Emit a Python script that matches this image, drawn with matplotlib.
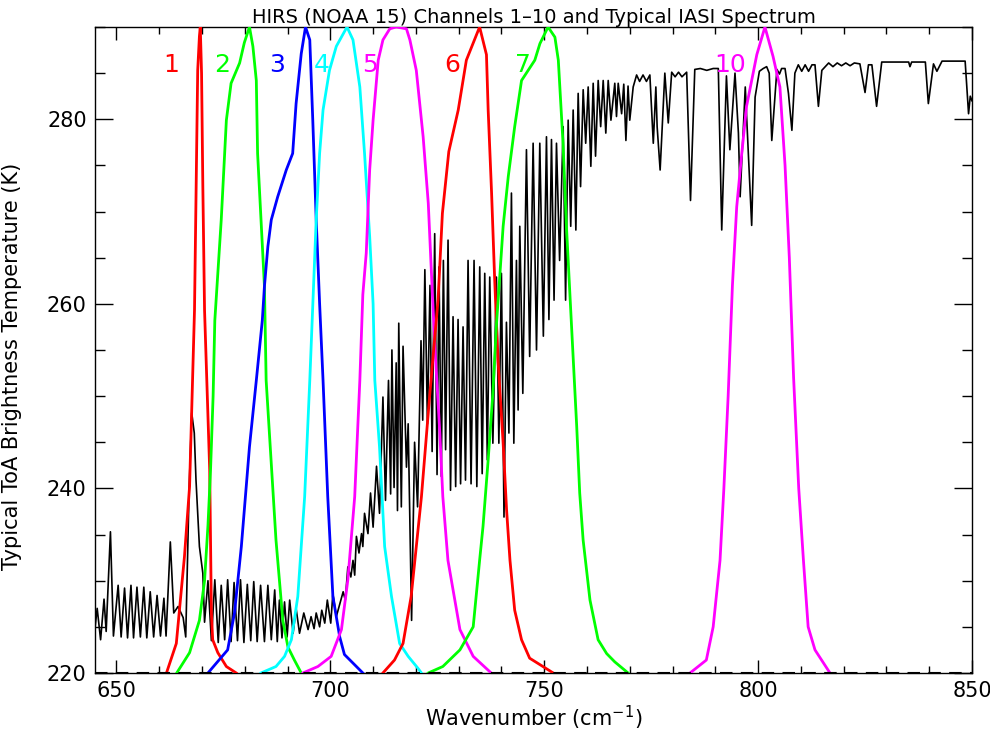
import matplotlib
matplotlib.use("Agg")
import matplotlib.pyplot as plt
from matplotlib.ticker import MultipleLocator

# ---------------- data ----------------
title = "HIRS (NOAA 15) Channels 1\u201310 and Typical IASI Spectrum"
xlabel = "Wavenumber (cm$^{-1}$)"
ylabel = "Typical ToA Brightness Temperature (K)"

# Typical IASI spectrum (brightness temperature, K), vertices
spec_wn = [644.9, 645.5, 646.3, 647.1, 647.6, 648.6, 649.3, 650.4, 651.1, 651.9, 652.6, 653.4,
           654.0, 654.8, 655.6, 656.4, 657.1, 657.9, 658.7, 659.5, 660.3, 661.1, 661.6, 662.6,
           663.4, 664.4, 665.6, 666.2, 667.0, 667.6, 668.2, 668.6, 669.4, 670.2, 670.6,
           671.4, 672.2, 673.0, 673.8, 674.5, 675.3, 676.0, 676.8, 677.5, 678.3, 679.0, 679.8,
           680.6, 681.4, 682.1, 682.9, 683.7, 684.6, 685.4, 686.2, 687.0, 687.6, 688.1, 688.7,
           689.3, 689.9, 690.5, 691.3,
           692.0, 692.8, 693.8, 694.8, 695.5, 696.2, 696.7, 697.5, 698.0, 698.7, 699.3, 700.1,
           700.6, 701.4,
           703.0, 703.5, 704.1, 704.8, 705.3, 705.7, 706.1, 706.7, 707.3, 707.6, 708.0, 708.8,
           709.4, 710.0, 710.8, 711.5,
           712.3, 712.9, 713.6, 714.1, 714.4, 714.9, 715.4, 715.7, 716.0, 716.6, 717.0, 717.8,
           718.2, 719.0, 719.7, 720.4,
           721.2, 721.6, 722.1, 722.7, 723.3, 723.8,
           724.40, 724.95, 725.41, 725.95, 726.43, 726.95, 727.52, 728.10, 728.69, 729.30,
           729.86, 730.45, 731.03, 731.60, 732.20, 732.90, 733.60, 734.25, 734.93, 735.50,
           736.10, 736.70, 737.27, 738.00, 738.83, 739.40, 740.00, 740.60, 741.17, 741.75,
           742.34, 742.90, 743.51, 743.90, 744.29, 745.00, 745.85, 746.60, 747.41, 748.20,
           748.97, 749.80, 750.53, 751.10, 751.70, 752.30, 752.87, 753.60, 754.43, 755.00,
           755.60, 756.20, 756.77, 757.40, 757.94, 758.50, 759.11, 759.70, 760.28, 760.90,
           761.45, 762.00, 762.62, 763.20, 763.79, 764.40, 764.96, 765.60,
           766.5, 766.9, 767.3, 768.1, 768.6, 769.1, 769.6, 770.0, 770.8, 771.6,
           772.3, 773.1, 773.9, 774.7, 775.5, 776.1, 776.4, 777.1, 778.2, 779.0, 779.8, 780.6,
           781.4, 782.2, 783.3, 784.2, 785.2, 786.5, 788.0, 789.5, 790.7, 791.5, 792.6, 793.4,
           794.6, 795.4, 795.8, 797.0, 798.5, 799.3, 800.3, 801.2, 802.0, 802.6, 803.2, 804.4,
           805.0, 805.5, 806.3, 807.1, 807.9, 808.6, 809.4, 810.2, 811.0, 811.8, 812.6, 813.3,
           814.1, 814.9, 815.5, 816.5, 817.5, 818.5, 819.5, 820.5, 821.5, 822.5, 823.8, 825.0,
           825.8, 826.6, 827.7, 828.9, 832.0, 835.2, 835.5, 835.9, 839.1, 839.8, 841.0, 841.8,
           843.0, 848.4, 849.2, 849.6, 850.0]
spec_T = [224.5, 227.0, 223.6, 228.0, 224.5, 235.3, 224.0, 229.5, 223.9, 229.2, 223.8, 229.5,
          223.8, 229.3, 223.9, 229.3, 223.8, 228.8, 223.9, 228.4, 224.0, 228.1, 224.0, 234.2,
          226.5, 227.2, 226.0, 223.9, 240.0, 248.2, 246.0, 240.9, 233.7, 230.8, 225.5,
          230.0, 223.5, 230.1, 223.3, 229.5, 223.6, 230.1, 223.4, 229.8, 223.5, 230.1, 223.3,
          229.6, 223.5, 229.9, 223.4, 229.5, 223.4, 229.5, 223.6, 229.0, 223.4, 227.9, 223.8,
          227.7, 223.9, 227.9, 224.3,
          227.0, 224.3, 226.5, 224.7, 226.1, 224.8, 226.5, 225.0, 226.8, 225.4, 227.9, 225.4,
          228.6, 226.1,
          228.8, 227.9, 231.5, 230.4, 232.2, 230.6, 234.8, 233.0, 235.1, 233.7, 237.3, 235.1,
          239.5, 235.8, 242.4, 237.3,
          249.9, 238.7, 251.7, 239.4, 255.0, 240.1, 253.6, 237.6, 257.9, 238.0, 255.4, 242.3,
          247.0, 225.7, 245.0, 238.0,
          256.0, 247.4, 263.7, 247.0, 262.0, 244.0,
          267.6, 241.5, 264.0, 241.3, 264.7, 244.2, 266.9, 239.8, 258.6, 240.2,
          258.3, 240.5, 257.5, 240.9, 264.7, 240.5, 264.7, 240.2, 264.0, 241.6,
          263.3, 243.1, 262.9, 244.9, 262.9, 244.9, 263.3, 236.9, 258.0, 246.0,
          272.0, 244.9, 264.7, 248.5, 268.4, 250.3, 276.7, 254.3, 277.4, 255.0,
          277.4, 256.5, 278.1, 258.3, 277.8, 260.4, 277.4, 264.7, 279.2, 260.4,
          279.9, 268.4, 281.0, 268.0, 282.8, 272.7, 283.2, 277.4, 283.5, 274.9,
          283.9, 276.0, 284.2, 279.2, 284.2, 278.5, 284.2, 279.9,
          283.9, 280.3, 283.9, 280.6, 283.8, 277.7, 283.6, 279.9, 283.5, 284.8,
          284.1, 284.8, 284.1, 284.8, 277.4, 283.5, 279.2, 274.5, 285.0, 279.6, 285.1, 284.6,
          285.1, 284.6, 285.1, 271.2, 285.4, 285.5, 285.3, 285.5, 285.5, 268.0, 284.7, 276.7,
          285.0, 278.5, 271.6, 283.5, 268.5, 282.4, 285.2, 285.5, 285.7, 285.0, 277.7, 285.4,
          284.9, 285.5, 285.5, 282.8, 278.8, 285.0, 285.9, 285.2, 285.9, 285.2, 285.9, 285.9,
          281.4, 285.3, 285.6, 286.1, 285.7, 286.1, 285.8, 286.1, 285.8, 286.1, 286.0, 282.9,
          285.9, 285.9, 281.4, 286.2, 286.2, 286.2, 285.7, 286.2, 286.2, 281.7, 286.0, 285.2,
          286.3, 286.3, 280.6, 282.5, 282.0]

# HIRS spectral response functions, drawn on the temperature axis (220 = zero, 290 = peak)
ch1_wn = [661.7, 664.0, 665.9, 667.1, 668.25, 669.0, 669.4, 669.6, 669.9, 670.2, 670.6, 671.8,
          672.2, 672.5, 673.7, 675.7, 678.0]
ch1_T = [220.0, 223.2, 232.6, 240.2, 259.3, 285.3, 289.0, 290.0, 285.0, 272.7, 259.3, 242.0,
         226.5, 223.6, 222.2, 220.7, 220.0]
ch2_wn = [664.1, 667.1, 669.4, 670.6, 671.4, 672.0, 672.6, 673.0, 674.5, 675.7, 676.8, 678.8,
          679.9, 681.1, 681.9, 682.7, 683.0, 683.8, 684.6, 685.0, 687.3, 688.9, 690.1, 691.6, 693.2]
ch2_T = [220.0, 222.2, 225.7, 230.0, 236.0, 242.0, 250.0, 258.2, 269.1, 279.9, 283.9, 286.1,
         288.3, 290.0, 287.9, 284.2, 276.3, 269.1, 261.9, 251.7, 234.4, 225.7, 222.8, 221.4, 220.0]
ch3_wn = [671.4, 676.0, 677.6, 679.2, 681.1, 682.7, 684.1, 684.6, 685.4, 686.2, 687.7, 689.7,
          691.2, 692.0, 693.2, 694.2, 695.2, 695.9, 696.7, 697.5, 698.3, 699.4, 700.6, 702.2,
          703.3, 707.6]
ch3_T = [220.0, 222.5, 226.5, 233.7, 244.5, 251.7, 258.2, 261.9, 266.2, 269.1, 271.6, 274.5,
         276.3, 281.7, 287.1, 290.0, 288.6, 279.9, 269.1, 260.0, 251.7, 239.1, 228.3, 223.9,
         222.0, 220.0]
ch4_wn = [683.8, 687.3, 689.3, 690.9, 692.4, 694.0, 695.2, 696.0, 696.7, 697.5, 698.3, 699.8,
          701.4, 703.9, 705.3, 706.9, 708.0, 709.2, 710.0, 710.4, 711.5, 712.7, 714.3, 716.2,
          718.2, 720.5, 721.3]
ch4_T = [220.0, 220.7, 221.8, 223.6, 228.3, 239.1, 251.7, 261.0, 269.1, 276.3, 281.0, 285.3,
         287.9, 290.0, 288.6, 283.5, 276.3, 267.3, 260.0, 251.7, 244.5, 233.7, 228.3, 223.2,
         221.8, 220.5, 220.0]
ch5_wn = [693.6, 697.1, 700.2, 702.6, 704.1, 705.7, 706.9, 707.6, 708.4, 709.2, 710.0, 711.2,
          712.3, 713.9, 715.4, 717.8, 718.6, 720.1, 721.7, 722.9, 723.6, 724.4, 725.6, 726.3,
          727.5, 730.3, 733.4, 737.6]
ch5_T = [220.0, 220.7, 221.8, 224.7, 230.1, 239.1, 251.7, 261.0, 265.5, 274.5, 279.9, 286.4,
         288.6, 289.8, 290.0, 289.8, 288.6, 285.3, 278.1, 270.9, 263.7, 255.7, 246.0, 239.1,
         232.2, 224.7, 221.8, 220.0]
ch6_wn = [712.3, 715.0, 717.0, 718.9, 721.3, 723.2, 725.2, 726.2, 727.7, 729.9, 731.8, 734.9,
          736.5, 736.9, 737.7, 738.4, 739.2, 740.4, 741.2, 742.0, 743.1, 744.7, 746.6, 749.7, 752.1]
ch6_T = [220.0, 221.4, 223.2, 228.3, 239.1, 249.9, 260.5, 269.8, 276.5, 281.0, 286.4, 290.0,
         287.0, 281.0, 272.0, 262.9, 253.9, 244.9, 237.7, 232.2, 226.8, 223.6, 221.6, 220.7, 220.0]
ch7_wn = [722.9, 726.3, 730.3, 733.4, 734.9, 735.7, 736.9, 738.0, 738.8, 739.6, 740.4, 741.6,
          743.1, 744.7, 747.8, 749.0, 750.9, 752.5, 753.3, 754.4, 755.2, 756.0, 756.8, 757.6,
          758.3, 759.1, 760.7, 762.6, 764.6, 766.5, 769.6]
ch7_T = [220.0, 220.7, 222.5, 225.0, 232.2, 235.9, 243.1, 250.3, 257.5, 262.9, 268.4, 273.8,
         279.2, 284.2, 286.4, 288.2, 290.0, 288.9, 286.4, 277.4, 268.4, 261.1, 253.9, 246.7,
         239.5, 234.4, 227.9, 223.6, 222.1, 221.2, 220.0]
ch10_wn = [784.1, 787.9, 789.5, 791.1, 792.0, 793.0, 794.0, 795.0, 796.1, 797.3, 799.7, 801.6,
           803.5, 805.1, 806.3, 807.3, 808.3, 809.5, 810.6, 811.7, 813.3, 816.8]
ch10_T = [220.0, 221.4, 225.0, 232.2, 240.0, 250.0, 262.0, 270.5, 275.9, 281.4, 287.0, 290.0,
          286.8, 283.5, 275.0, 265.0, 252.0, 240.0, 232.2, 225.0, 222.5, 220.0]

channel_names = ["1", "2", "3", "4", "5", "6", "7", "10"]
channel_colors = ["#ff0000", "#00ff00", "#0000ff", "#00ffff", "#ff00ff", "#ff0000", "#00ff00", "#ff00ff"]
label_wn = [662.9, 674.6, 687.6, 698.0, 709.2, 728.6, 745.0, 793.4]
label_T = 285.9

# ---------------- plot ----------------
fig = plt.figure(figsize=(9.9, 7.35), dpi=100)
ax = fig.add_axes([0.096, 0.0844, 0.8858, 0.8789])

ax.plot(spec_wn, spec_T, color="black", lw=1.2, zorder=2)

srfs = [(ch1_wn, ch1_T), (ch2_wn, ch2_T), (ch3_wn, ch3_T), (ch4_wn, ch4_T),
        (ch5_wn, ch5_T), (ch6_wn, ch6_T), (ch7_wn, ch7_T), (ch10_wn, ch10_T)]
for (w, t), c in zip(srfs, channel_colors):
    ax.plot(w, t, color=c, lw=2.0, zorder=3)

ax.axhline(220, color="black", lw=1.5, ls=(0, (6, 4)), zorder=4, clip_on=False)

for name, c, x in zip(channel_names, channel_colors, label_wn):
    ax.text(x, label_T, name, color=c, fontsize=18, ha="center", va="center", zorder=5)

ax.set_xlim(645, 850)
ax.set_ylim(220, 290)
ax.xaxis.set_major_locator(MultipleLocator(50))
ax.xaxis.set_minor_locator(MultipleLocator(10))
ax.yaxis.set_major_locator(MultipleLocator(20))
ax.yaxis.set_minor_locator(MultipleLocator(5))
ax.tick_params(axis="x", which="major", direction="in", length=9.5, width=1, top=True,
               labelsize=15, pad=6)
ax.tick_params(axis="x", which="minor", direction="in", length=5, width=1, top=True)
ax.tick_params(axis="y", which="major", direction="in", length=13, width=1, right=True,
               labelsize=15, pad=6)
ax.tick_params(axis="y", which="minor", direction="in", length=7, width=1, right=True)
for s in ax.spines.values():
    s.set_linewidth(1.0)

ax.set_xlabel(xlabel, fontsize=15, labelpad=2)
ax.set_ylabel(ylabel, fontsize=15)
ax.yaxis.set_label_coords(-0.083, 0.474)
ax.set_title(title, fontsize=14, pad=1)

fig.savefig("out.png", dpi=100)
